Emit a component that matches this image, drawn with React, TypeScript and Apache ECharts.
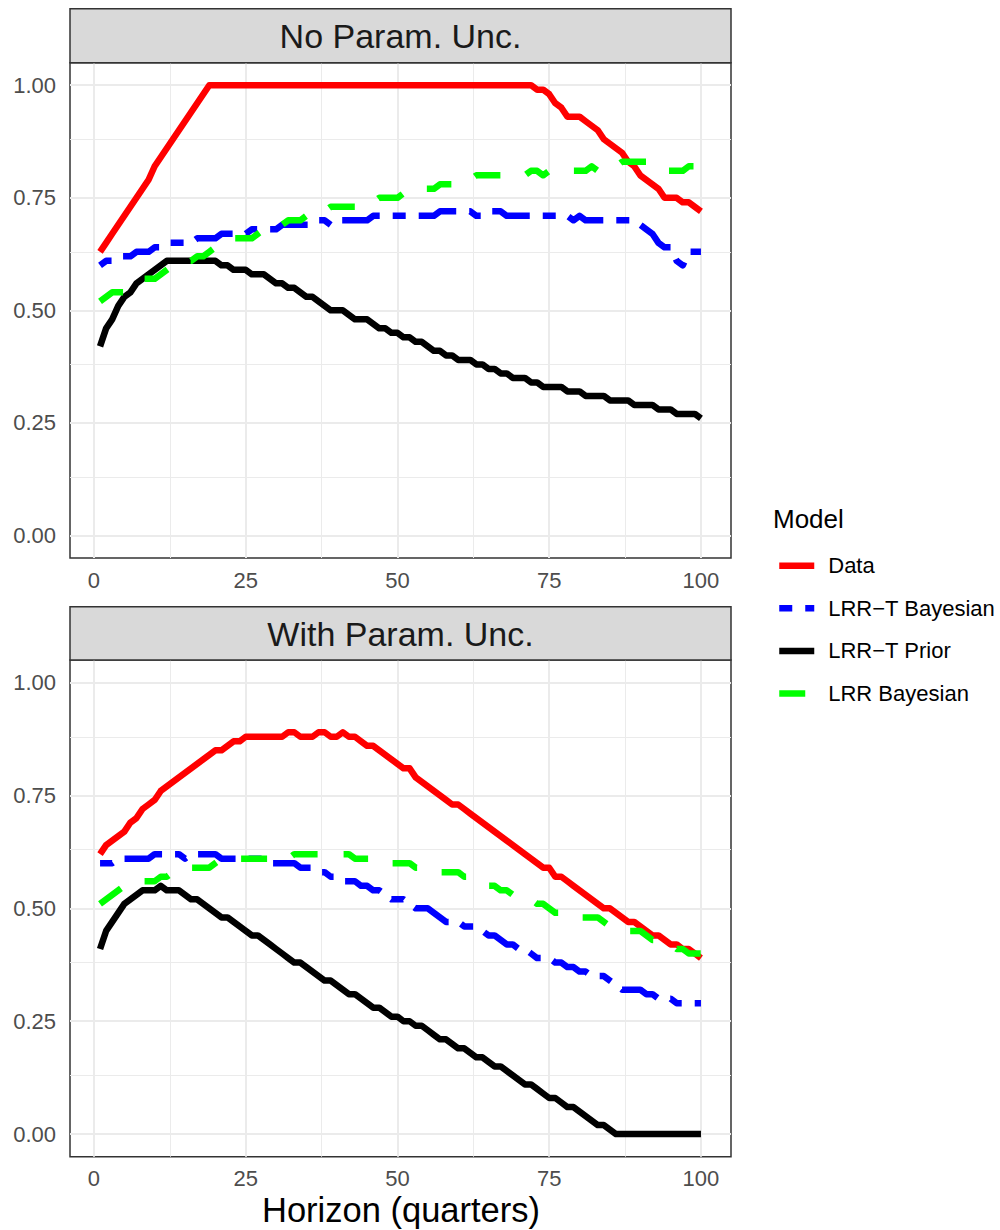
import React, { useEffect, useRef } from "react";
import * as echarts from "echarts";

const FONT = "'Liberation Sans', Arial, Helvetica, sans-serif";

const SERIES_NAMES = ["Data", "LRR\u2212T Bayesian", "LRR\u2212T Prior", "LRR Bayesian"];
const SERIES_COLORS = ["#FF0000", "#0000FF", "#000000", "#00FF00"];
const PANEL_TITLES = ["No Param. Unc.", "With Param. Unc."];
const LEGEND_TITLE = "Model";
const X_TITLE = "Horizon (quarters)";

const X_TICKS = [0, 25, 50, 75, 100];
const X_MINOR = [12.5, 37.5, 62.5, 87.5];
const Y_TICKS = [0, 0.25, 0.5, 0.75, 1];
const Y_MINOR = [0.125, 0.375, 0.625, 0.875];

const horizons = Array.from({ length: 100 }, (_, i) => i + 1);

// ---- Panel 1: No Param. Unc. ----
const noUncData = [
  0.63, 0.65, 0.67, 0.69, 0.71, 0.73, 0.75, 0.77, 0.79, 0.82,
  0.84, 0.86, 0.88, 0.90, 0.92, 0.94, 0.96, 0.98, 1.00, 1.00,
  1.00, 1.00, 1.00, 1.00, 1.00, 1.00, 1.00, 1.00, 1.00, 1.00,
  1.00, 1.00, 1.00, 1.00, 1.00, 1.00, 1.00, 1.00, 1.00, 1.00,
  1.00, 1.00, 1.00, 1.00, 1.00, 1.00, 1.00, 1.00, 1.00, 1.00,
  1.00, 1.00, 1.00, 1.00, 1.00, 1.00, 1.00, 1.00, 1.00, 1.00,
  1.00, 1.00, 1.00, 1.00, 1.00, 1.00, 1.00, 1.00, 1.00, 1.00,
  1.00, 1.00, 0.99, 0.99, 0.98, 0.96, 0.95, 0.93, 0.93, 0.93,
  0.92, 0.91, 0.90, 0.88, 0.87, 0.86, 0.85, 0.83, 0.82, 0.80,
  0.79, 0.78, 0.77, 0.75, 0.75, 0.75, 0.74, 0.74, 0.73, 0.72,
];
const noUncTBayes = [
  0.60, 0.61, 0.61, 0.62, 0.62, 0.62, 0.63, 0.63, 0.63, 0.64,
  0.64, 0.65, 0.65, 0.65, 0.65, 0.65, 0.66, 0.66, 0.66, 0.66,
  0.67, 0.67, 0.67, 0.67, 0.67, 0.68, 0.68, 0.68, 0.68, 0.68,
  0.69, 0.69, 0.69, 0.69, 0.69, 0.69, 0.70, 0.70, 0.69, 0.70,
  0.70, 0.70, 0.70, 0.70, 0.70, 0.71, 0.71, 0.71, 0.71, 0.71,
  0.71, 0.71, 0.71, 0.71, 0.71, 0.71, 0.72, 0.72, 0.72, 0.72,
  0.72, 0.72, 0.71, 0.71, 0.72, 0.72, 0.72, 0.71, 0.71, 0.71,
  0.71, 0.71, 0.71, 0.71, 0.71, 0.71, 0.71, 0.71, 0.70, 0.71,
  0.70, 0.70, 0.70, 0.70, 0.70, 0.70, 0.70, 0.70, 0.70, 0.69,
  0.68, 0.67, 0.65, 0.64, 0.64, 0.61, 0.60, 0.63, 0.63, 0.63,
];
const noUncTPrior = [
  0.42, 0.46, 0.48, 0.51, 0.53, 0.54, 0.56, 0.57, 0.58, 0.59,
  0.60, 0.61, 0.61, 0.61, 0.61, 0.61, 0.61, 0.61, 0.61, 0.61,
  0.60, 0.60, 0.59, 0.59, 0.59, 0.58, 0.58, 0.58, 0.57, 0.56,
  0.56, 0.55, 0.55, 0.54, 0.53, 0.53, 0.52, 0.51, 0.50, 0.50,
  0.50, 0.49, 0.48, 0.48, 0.48, 0.47, 0.46, 0.46, 0.45, 0.45,
  0.44, 0.44, 0.43, 0.43, 0.42, 0.41, 0.41, 0.40, 0.40, 0.39,
  0.39, 0.39, 0.38, 0.38, 0.37, 0.37, 0.36, 0.36, 0.35, 0.35,
  0.35, 0.34, 0.34, 0.33, 0.33, 0.33, 0.33, 0.32, 0.32, 0.32,
  0.31, 0.31, 0.31, 0.31, 0.30, 0.30, 0.30, 0.30, 0.29, 0.29,
  0.29, 0.29, 0.28, 0.28, 0.28, 0.27, 0.27, 0.27, 0.27, 0.26,
];
const noUncLRR = [
  0.52, 0.53, 0.54, 0.54, 0.54, 0.55, 0.56, 0.57, 0.57, 0.57,
  0.58, 0.59, 0.60, 0.60, 0.61, 0.61, 0.62, 0.62, 0.63, 0.64,
  0.65, 0.65, 0.66, 0.66, 0.66, 0.66, 0.67, 0.68, 0.68, 0.69,
  0.69, 0.70, 0.70, 0.70, 0.71, 0.71, 0.72, 0.72, 0.73, 0.73,
  0.73, 0.73, 0.73, 0.74, 0.74, 0.74, 0.75, 0.75, 0.75, 0.75,
  0.76, 0.76, 0.76, 0.77, 0.77, 0.77, 0.78, 0.78, 0.78, 0.78,
  0.79, 0.79, 0.80, 0.80, 0.80, 0.80, 0.80, 0.80, 0.80, 0.80,
  0.80, 0.81, 0.81, 0.80, 0.81, 0.81, 0.81, 0.81, 0.81, 0.81,
  0.81, 0.82, 0.81, 0.81, 0.82, 0.82, 0.83, 0.83, 0.83, 0.83,
  0.83, 0.83, 0.82, 0.81, 0.81, 0.81, 0.81, 0.82, 0.82, 0.82,
];

// ---- Panel 2: With Param. Unc. ----
const withData = [
  0.62, 0.64, 0.65, 0.66, 0.67, 0.69, 0.70, 0.72, 0.73, 0.74,
  0.76, 0.77, 0.78, 0.79, 0.80, 0.81, 0.82, 0.83, 0.84, 0.85,
  0.85, 0.86, 0.87, 0.87, 0.88, 0.88, 0.88, 0.88, 0.88, 0.88,
  0.88, 0.89, 0.89, 0.88, 0.88, 0.88, 0.89, 0.89, 0.88, 0.88,
  0.89, 0.88, 0.88, 0.87, 0.86, 0.86, 0.85, 0.84, 0.83, 0.82,
  0.81, 0.81, 0.79, 0.78, 0.77, 0.76, 0.75, 0.74, 0.73, 0.73,
  0.72, 0.71, 0.70, 0.69, 0.68, 0.67, 0.66, 0.65, 0.64, 0.63,
  0.62, 0.61, 0.60, 0.59, 0.59, 0.57, 0.57, 0.56, 0.55, 0.54,
  0.53, 0.52, 0.51, 0.50, 0.50, 0.49, 0.48, 0.47, 0.47, 0.46,
  0.45, 0.44, 0.44, 0.43, 0.42, 0.42, 0.41, 0.41, 0.40, 0.39,
];
const withTBayes = [
  0.60, 0.60, 0.60, 0.61, 0.61, 0.61, 0.61, 0.61, 0.61, 0.62,
  0.62, 0.62, 0.62, 0.62, 0.61, 0.62, 0.62, 0.62, 0.62, 0.62,
  0.61, 0.61, 0.61, 0.61, 0.61, 0.61, 0.61, 0.61, 0.60, 0.60,
  0.60, 0.60, 0.60, 0.59, 0.59, 0.59, 0.58, 0.58, 0.57, 0.57,
  0.56, 0.56, 0.56, 0.55, 0.55, 0.54, 0.54, 0.53, 0.52, 0.52,
  0.52, 0.51, 0.50, 0.50, 0.50, 0.49, 0.48, 0.47, 0.47, 0.47,
  0.46, 0.46, 0.46, 0.45, 0.44, 0.44, 0.43, 0.42, 0.42, 0.41,
  0.41, 0.40, 0.39, 0.39, 0.39, 0.38, 0.38, 0.37, 0.37, 0.36,
  0.36, 0.35, 0.35, 0.35, 0.34, 0.33, 0.32, 0.32, 0.32, 0.32,
  0.31, 0.31, 0.30, 0.30, 0.30, 0.29, 0.29, 0.29, 0.29, 0.29,
];
const withTPrior = [
  0.41, 0.45, 0.47, 0.49, 0.51, 0.52, 0.53, 0.54, 0.54, 0.54,
  0.55, 0.54, 0.54, 0.54, 0.53, 0.52, 0.52, 0.51, 0.50, 0.49,
  0.48, 0.48, 0.47, 0.46, 0.45, 0.44, 0.44, 0.43, 0.42, 0.41,
  0.40, 0.39, 0.38, 0.38, 0.37, 0.36, 0.35, 0.34, 0.34, 0.33,
  0.32, 0.31, 0.31, 0.30, 0.29, 0.28, 0.28, 0.27, 0.26, 0.26,
  0.25, 0.25, 0.24, 0.24, 0.23, 0.22, 0.21, 0.21, 0.20, 0.19,
  0.19, 0.18, 0.17, 0.17, 0.16, 0.15, 0.15, 0.14, 0.13, 0.12,
  0.11, 0.11, 0.10, 0.09, 0.08, 0.08, 0.07, 0.06, 0.06, 0.05,
  0.04, 0.03, 0.02, 0.02, 0.01, 0.00, 0.00, 0.00, 0.00, 0.00,
  0.00, 0.00, 0.00, 0.00, 0.00, 0.00, 0.00, 0.00, 0.00, 0.00,
];
const withLRR = [
  0.51, 0.52, 0.53, 0.54, 0.55, 0.55, 0.56, 0.56, 0.56, 0.56,
  0.57, 0.57, 0.58, 0.58, 0.59, 0.59, 0.59, 0.59, 0.59, 0.60,
  0.61, 0.61, 0.61, 0.61, 0.61, 0.61, 0.61, 0.61, 0.61, 0.61,
  0.61, 0.61, 0.62, 0.62, 0.62, 0.62, 0.62, 0.62, 0.62, 0.62,
  0.62, 0.62, 0.61, 0.61, 0.61, 0.61, 0.61, 0.60, 0.60, 0.60,
  0.60, 0.60, 0.59, 0.59, 0.59, 0.58, 0.58, 0.58, 0.58, 0.58,
  0.57, 0.57, 0.56, 0.56, 0.55, 0.55, 0.54, 0.54, 0.53, 0.53,
  0.52, 0.52, 0.51, 0.51, 0.50, 0.49, 0.49, 0.49, 0.48, 0.48,
  0.48, 0.48, 0.48, 0.47, 0.46, 0.46, 0.46, 0.45, 0.45, 0.45,
  0.44, 0.43, 0.43, 0.42, 0.42, 0.41, 0.41, 0.40, 0.40, 0.40,
];

const PANEL_SERIES = [
  [noUncData, noUncTBayes, noUncTPrior, noUncLRR],
  [withData, withTBayes, withTPrior, withLRR],
];

const LINE_WIDTH = 6.5;
const DASHES: any[] = ["solid", [13, 13, 39, 13], "solid", [26, 26]];

// layout (pixels)
const PANEL_LEFT = 70;
const PANEL_WIDTH = 661;
const STRIPS = [
  { top: 8.7, bottom: 62.7, textY: 35.5 },
  { top: 606.7, bottom: 660, textY: 634 },
];
const PANEL_BOTTOMS = [558, 1156.7];

export default function App() {
  const ref = useRef<HTMLDivElement>(null);

  useEffect(() => {
    if (!ref.current) return;
    const chart = echarts.init(ref.current, undefined, { renderer: "svg" });

    const grids = STRIPS.map((s, p) => ({
      left: PANEL_LEFT,
      top: s.bottom,
      width: PANEL_WIDTH,
      height: PANEL_BOTTOMS[p] - s.bottom,
      show: true,
      backgroundColor: "#FFFFFF",
      borderColor: "#333333",
      borderWidth: 1.5,
      containLabel: false,
    }));

    const xAxes = [0, 1].map((p) => ({
      type: "value",
      gridIndex: p,
      min: -3.95,
      max: 104.95,
      axisLine: { show: false },
      axisTick: {
        show: true,
        customValues: X_TICKS,
        length: 6.5,
        lineStyle: { color: "#333333", width: 1.5 },
      },
      axisLabel: {
        customValues: X_TICKS,
        fontSize: 22,
        color: "#4D4D4D",
        margin: 11,
        fontFamily: FONT,
      },
      splitLine: { show: false },
    }));

    const yAxes = [0, 1].map((p) => ({
      type: "value",
      gridIndex: p,
      min: -0.05,
      max: 1.05,
      axisLine: { show: false },
      axisTick: {
        show: true,
        customValues: Y_TICKS,
        length: 6.5,
        lineStyle: { color: "#333333", width: 1.5 },
      },
      axisLabel: {
        customValues: Y_TICKS,
        fontSize: 22,
        color: "#4D4D4D",
        margin: 14,
        fontFamily: FONT,
        formatter: (v: number) => v.toFixed(2),
      },
      splitLine: { show: false },
    }));

    const series: any[] = [];
    [0, 1].forEach((p) => {
      const gl = (w: number) => ({ lineStyle: { width: w, color: "#EBEBEB", type: "solid" } });
      series.push({
        type: "line",
        xAxisIndex: p,
        yAxisIndex: p,
        data: [],
        silent: true,
        z: 1,
        markLine: {
          silent: true,
          z: 1,
          symbol: ["none", "none"],
          label: { show: false },
          animation: false,
          lineStyle: { color: "#EBEBEB", type: "solid" },
          emphasis: { disabled: true },
          data: [
            ...X_MINOR.map((v) => ({ xAxis: v, ...gl(1) })),
            ...Y_MINOR.map((v) => ({ yAxis: v, ...gl(1) })),
            ...X_TICKS.map((v) => ({ xAxis: v, ...gl(2) })),
            ...Y_TICKS.map((v) => ({ yAxis: v, ...gl(2) })),
          ],
        },
      });
      PANEL_SERIES[p].forEach((vals, k) => {
        series.push({
          name: SERIES_NAMES[k],
          type: "line",
          xAxisIndex: p,
          yAxisIndex: p,
          data: horizons.map((h, i) => [h, vals[i]]),
          symbol: "none",
          showSymbol: false,
          silent: true,
          z: 3 + k,
          color: SERIES_COLORS[k],
          itemStyle: { color: SERIES_COLORS[k] },
          lineStyle: {
            color: SERIES_COLORS[k],
            width: LINE_WIDTH,
            type: DASHES[k],
            cap: "butt",
            join: "round",
          },
        });
      });
    });

    const graphic: any[] = [];
    STRIPS.forEach((s, p) => {
      graphic.push({
        type: "rect",
        shape: { x: PANEL_LEFT, y: s.top, width: PANEL_WIDTH, height: s.bottom - s.top },
        style: { fill: "#D9D9D9", stroke: "#333333", lineWidth: 1.5 },
        z: 10,
      });
      graphic.push({
        type: "text",
        x: PANEL_LEFT + PANEL_WIDTH / 2,
        y: s.textY,
        style: {
          text: PANEL_TITLES[p],
          fontSize: 34,
          fontFamily: FONT,
          fill: "#1A1A1A",
          align: "center",
          verticalAlign: "middle",
        },
        z: 11,
      });
    });
    graphic.push({
      type: "text",
      x: 401,
      y: 1210,
      style: {
        text: X_TITLE,
        fontSize: 34.5,
        fontFamily: FONT,
        fill: "#000000",
        align: "center",
        verticalAlign: "middle",
      },
      z: 11,
    });
    graphic.push({
      type: "text",
      x: 773,
      y: 519,
      style: {
        text: LEGEND_TITLE,
        fontSize: 26,
        fontFamily: FONT,
        fill: "#000000",
        align: "left",
        verticalAlign: "middle",
      },
      z: 11,
    });

    chart.setOption({
      animation: false,
      backgroundColor: "#FFFFFF",
      grid: grids,
      xAxis: xAxes,
      yAxis: yAxes,
      series,
      graphic,
      legend: {
        data: SERIES_NAMES,
        orient: "vertical",
        left: 776,
        top: 554.7,
        padding: 0,
        itemWidth: 35,
        itemHeight: 14,
        itemGap: 20.6,
        selectedMode: false,
        textStyle: {
          fontSize: 22,
          lineHeight: 22,
          color: "#000000",
          fontFamily: FONT,
          padding: [0, 0, 0, 9],
        },
        itemStyle: { color: "rgba(0,0,0,0)", opacity: 0, borderWidth: 0 },
        lineStyle: { width: LINE_WIDTH, cap: "butt" },
      },
      tooltip: { show: false },
    });

    return () => chart.dispose();
  }, []);

  return (
    <div
      ref={ref}
      style={{ position: "absolute", left: 0, top: 0, width: 1000, height: 1230, background: "#FFFFFF" }}
    />
  );
}
